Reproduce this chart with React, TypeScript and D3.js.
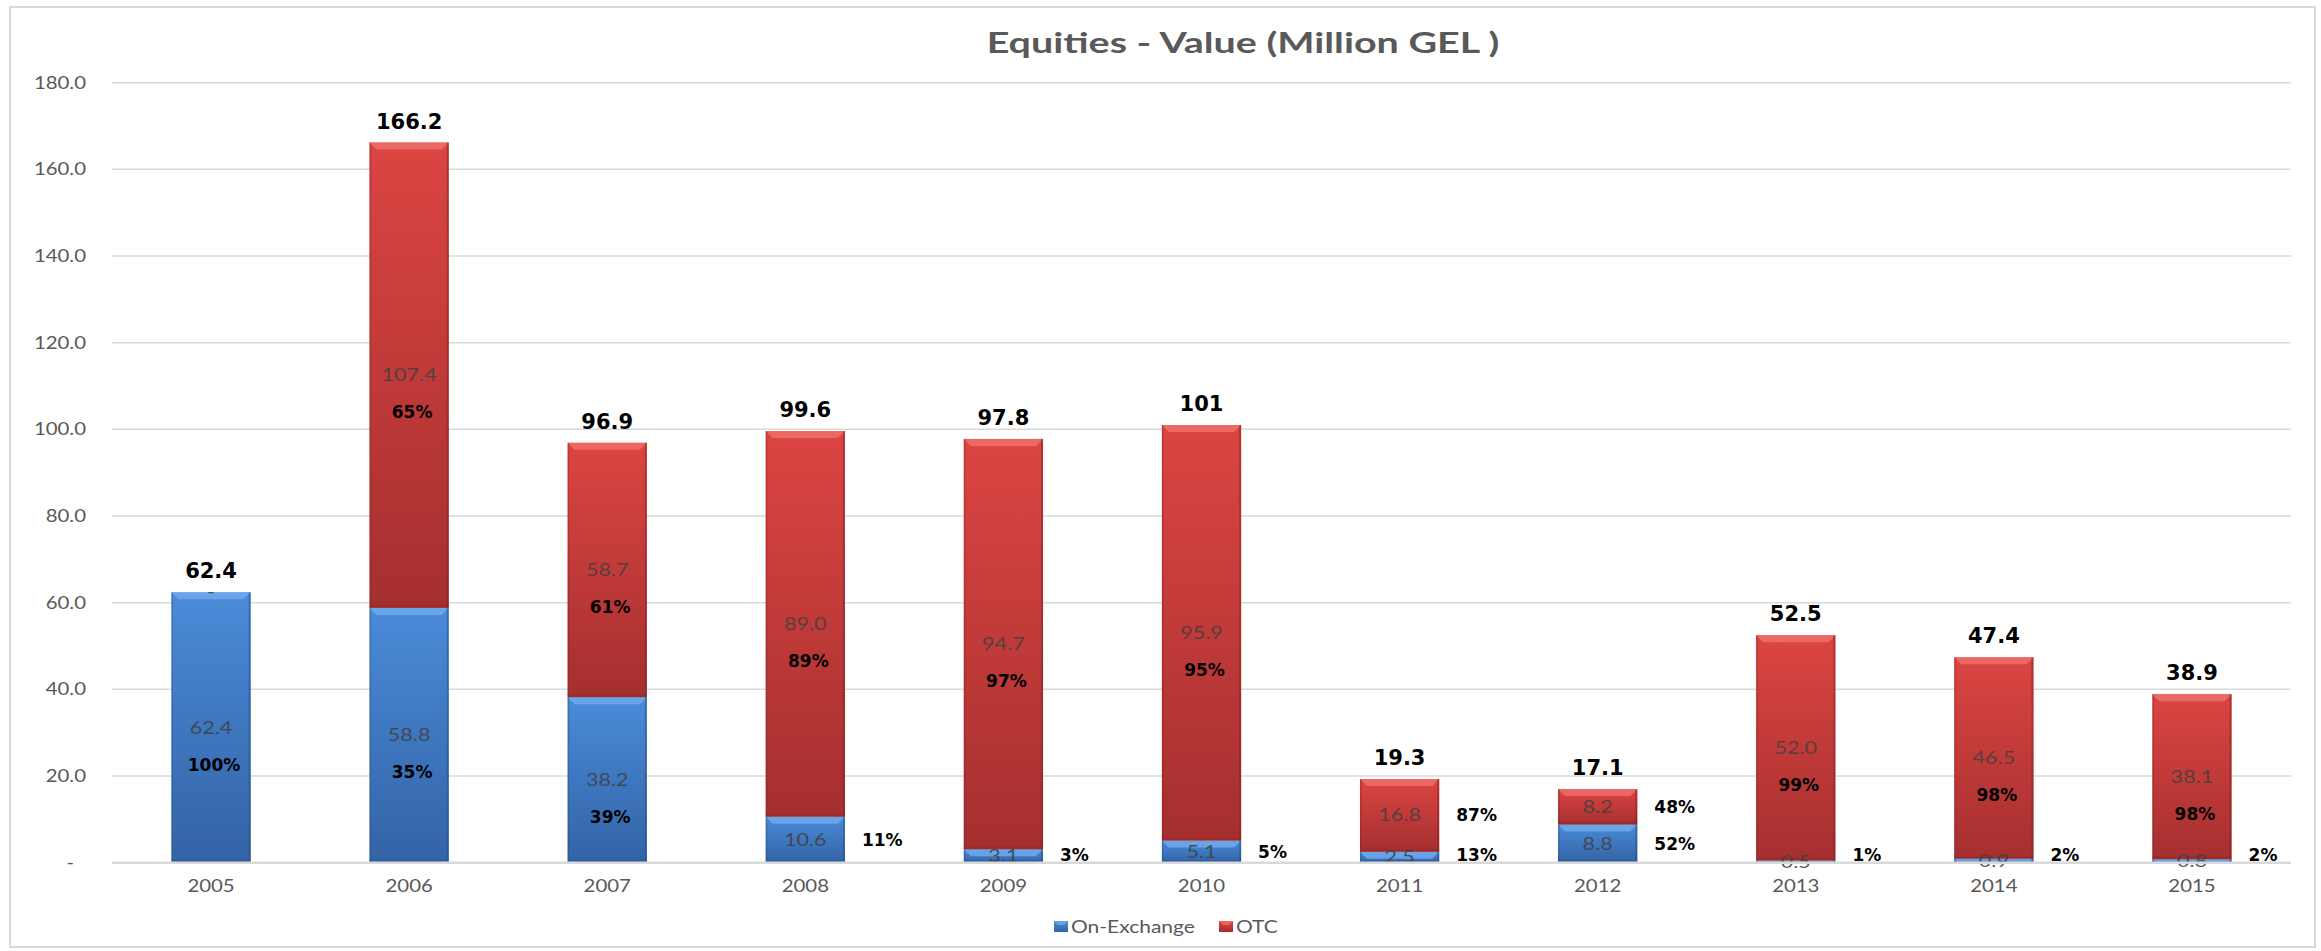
import React from "react";
import * as d3 from "d3";

const years = ["2005", "2006", "2007", "2008", "2009", "2010", "2011", "2012", "2013", "2014", "2015"];
const onExchange = [62.4, 58.8, 38.2, 10.6, 3.1, 5.1, 2.5, 8.8, 0.5, 0.9, 0.8];
const otc = [0, 107.4, 58.7, 89.0, 94.7, 95.9, 16.8, 8.2, 52.0, 46.5, 38.1];
const totals = [62.4, 166.2, 96.9, 99.6, 97.8, 101, 19.3, 17.1, 52.5, 47.4, 38.9];
const onExchangePct = [100, 35, 39, 11, 3, 5, 13, 52, 1, 2, 2];
const otcPct = [null, 65, 61, 89, 97, 95, 87, 48, 99, 98, 98];
const yTicks = [0, 20, 40, 60, 80, 100, 120, 140, 160, 180];
const seriesNames = ["On-Exchange", "OTC"];
const title = "Equities - Value (Million GEL )";

const W = 2321;
const H = 951;
const SX = 1.2;
const LATO = "Lato, Carlito, Calibri, sans-serif";
const DEJA = "'DejaVu Sans', Verdana, sans-serif";

const x = d3.scaleBand<string>().domain(years).range([112, 2291]).paddingInner(0.6).paddingOuter(0.3);
const y = d3.scaleLinear().domain([0, 180]).range([862.7, 82.7]);

const palette = {
  blue: { top: "#4a8bd8", bottom: "#3363a6", bevel: "#74aef0", edge: "#24497d" },
  red: { top: "#db4542", bottom: "#a52f2f", bevel: "#f07470", edge: "#7d2020" },
};

function SText(props: any) {
  const { x: tx, y: ty, sx = SX, children, ...rest } = props;
  return (
    <g transform={`translate(${tx},${ty}) scale(${sx},1)`}>
      <text {...rest}>{children}</text>
    </g>
  );
}

function Segment({ x0, w, v0, v1, c, id }: any) {
  const top = y(v1);
  const bot = y(v0);
  const h = bot - top;
  if (h <= 0) return null;
  const b = Math.min(7, h);
  return (
    <g>
      <rect x={x0} y={top} width={w} height={h} fill={`url(#${id})`} />
      <polygon
        points={`${x0},${top} ${x0 + w},${top} ${x0 + w - b},${top + b} ${x0 + b},${top + b}`}
        fill={c.bevel}
        opacity={0.75}
      />
      <rect x={x0} y={top} width={1.5} height={h} fill={c.edge} opacity={0.35} />
      <rect x={x0 + w - 2} y={top} width={2} height={h} fill={c.edge} opacity={0.45} />
      {h > 6 && <rect x={x0} y={bot - 3} width={w} height={3} fill={c.edge} opacity={0.2} />}
    </g>
  );
}

export default function App() {
  const bw = x.bandwidth();
  const fmt = (v: number) => (v === 0 ? "-" : v.toFixed(1));

  return (
    <svg width={W} height={H} style={{ position: "absolute", left: 0, top: 0, background: "#fff" }}>
      <defs>
        {(["blue", "red"] as const).map((k) => (
          <linearGradient key={k} id={`g-${k}`} x1="0" y1="0" x2="0" y2="1">
            <stop offset="0" stopColor={palette[k].top} />
            <stop offset="1" stopColor={palette[k].bottom} />
          </linearGradient>
        ))}
      </defs>
      <rect x={0} y={0} width={W} height={H} fill="#fff" />
      <rect x={10} y={7} width={2305} height={940} fill="none" stroke="#d9d9d9" strokeWidth={2} />

      <SText x={1243} y={53} textAnchor="middle" fontFamily={LATO} fontWeight={700} fontSize={29} fill="#595959" sx={1.36}>
        {title}
      </SText>

      {yTicks.map((t) => (
        <g key={t}>
          {t > 0 && <line x1={112} x2={2291} y1={y(t)} y2={y(t)} stroke="#d9d9d9" strokeWidth={1.5} />}
          <SText
            x={t === 0 ? 74 : 86}
            y={y(t) + 6}
            textAnchor="end"
            fontFamily={LATO}
            fontSize={17}
            fill="#595959"
          >
            {t === 0 ? "-" : t.toFixed(1)}
          </SText>
        </g>
      ))}

      {years.map((yr, i) => {
        const x0 = x(yr)!;
        const cx = x0 + bw / 2;
        const a = onExchange[i];
        const b = otc[i];
        const top = a + b;
        const segs = [
          { v0: 0, v1: a, val: a, pct: onExchangePct[i], c: palette.blue, id: "g-blue" },
          { v0: a, v1: top, val: b, pct: otcPct[i], c: palette.red, id: "g-red" },
        ];
        return (
          <g key={yr}>
            {segs.map((s, j) => (
              <Segment key={j} x0={x0} w={bw} v0={s.v0} v1={s.v1} c={s.c} id={s.id} />
            ))}
            {segs.map((s, j) => {
              const cy = y((s.v0 + s.v1) / 2);
              return (
                <SText
                  key={`v${j}`}
                  x={cx}
                  y={cy + 6}
                  textAnchor="middle"
                  fontFamily={LATO}
                  fontSize={18}
                  fill="#404040"
                  fillOpacity={0.85}
                >
                  {fmt(s.val)}
                </SText>
              );
            })}
            {segs.map((s, j) => {
              if (s.pct == null) return null;
              const cy = y((s.v0 + s.v1) / 2);
              const inside = s.val >= 20;
              return inside ? (
                <text
                  key={`p${j}`}
                  x={cx + 3}
                  y={cy + 37 + 6}
                  textAnchor="middle"
                  fontFamily={DEJA}
                  fontWeight={700}
                  fontSize={17}
                  fill="#000"
                >
                  {s.pct}%
                </text>
              ) : (
                <text
                  key={`p${j}`}
                  x={x0 + bw + 17}
                  y={Math.min(cy, y(0) - 8) + 6}
                  textAnchor="start"
                  fontFamily={DEJA}
                  fontWeight={700}
                  fontSize={17}
                  fill="#000"
                >
                  {s.pct}%
                </text>
              );
            })}
            <text
              x={cx}
              y={y(top) - 14}
              textAnchor="middle"
              fontFamily={DEJA}
              fontWeight={700}
              fontSize={21}
              fill="#000"
            >
              {String(totals[i])}
            </text>
            <SText x={cx} y={892} textAnchor="middle" fontFamily={LATO} fontSize={17} fill="#595959">
              {yr}
            </SText>
          </g>
        );
      })}

      <line x1={112} x2={2291} y1={y(0)} y2={y(0)} stroke="#d9d9d9" strokeWidth={2.5} />

      {seriesNames.map((name, k) => {
        const lx = k === 0 ? 1054 : 1219;
        const c = k === 0 ? palette.blue : palette.red;
        return (
          <g key={name}>
            <rect x={lx} y={921} width={14} height={11} fill={k === 0 ? "url(#g-blue)" : "url(#g-red)"} />
            <polygon points={`${lx},921 ${lx + 14},921 ${lx + 10},925 ${lx + 4},925`} fill={c.bevel} opacity={0.7} />
            <SText x={lx + 17} y={933} textAnchor="start" fontFamily={LATO} fontSize={17.5} fill="#595959">
              {name}
            </SText>
          </g>
        );
      })}
    </svg>
  );
}
